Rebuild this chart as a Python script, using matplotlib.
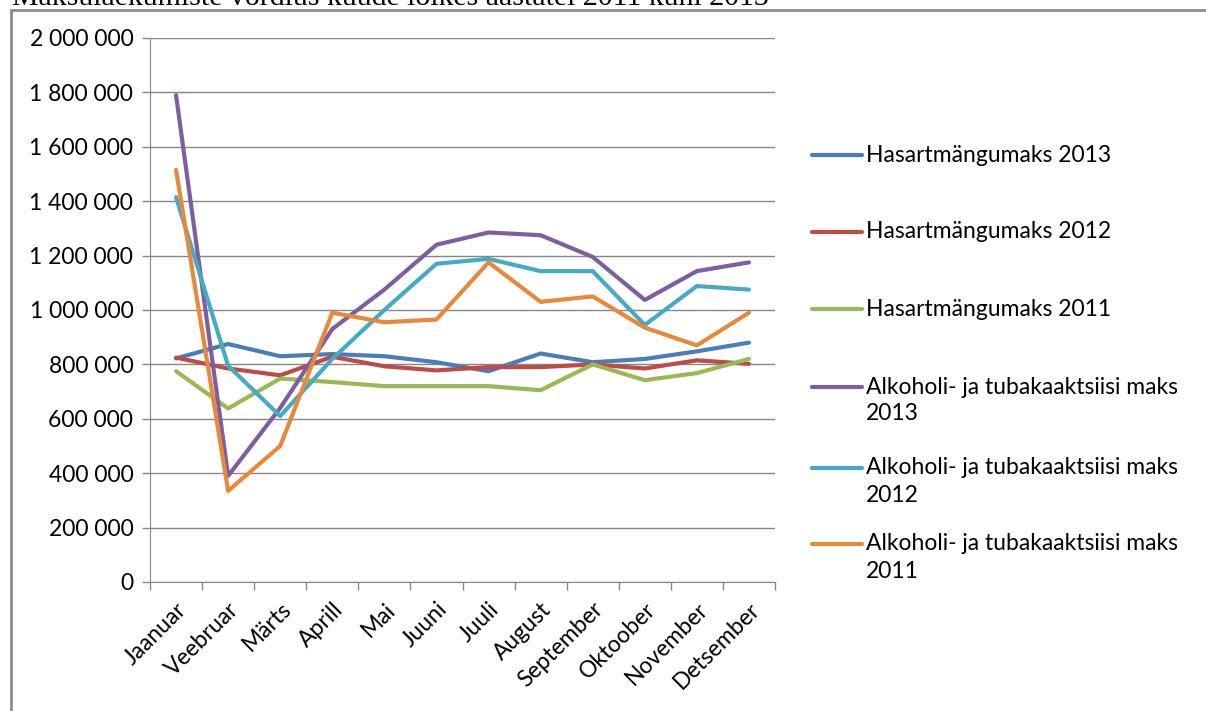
import matplotlib
matplotlib.use("Agg")
import matplotlib.pyplot as plt
from matplotlib.lines import Line2D
from matplotlib.patches import Rectangle
from matplotlib.ticker import FuncFormatter

plt.rcParams['font.family'] = ['Lato', 'DejaVu Sans']

months = ["Jaanuar", "Veebruar", "Märts", "Aprill", "Mai", "Juuni", "Juuli",
          "August", "September", "Oktoober", "November", "Detsember"]

hasart_2013 = [822000, 875000, 830000, 838000, 830000, 808000, 775000, 840000, 808000, 820000, 848000, 880000]
hasart_2012 = [825000, 785000, 760000, 828000, 793000, 778000, 790000, 790000, 800000, 785000, 815000, 802000]
hasart_2011 = [775000, 638000, 748000, 735000, 720000, 720000, 720000, 705000, 800000, 742000, 768000, 820000]
alko_2013 = [1790000, 390000, 640000, 930000, 1075000, 1240000, 1285000, 1275000, 1195000, 1037000, 1143000, 1175000]
alko_2012 = [1415000, 795000, 610000, 820000, 1000000, 1170000, 1188000, 1143000, 1143000, 945000, 1088000, 1075000]
alko_2011 = [1515000, 335000, 500000, 990000, 955000, 965000, 1175000, 1030000, 1050000, 935000, 870000, 990000]

series = [
    ("Hasartmängumaks 2013", hasart_2013, "#4A7EBB"),
    ("Hasartmängumaks 2012", hasart_2012, "#BE4B48"),
    ("Hasartmängumaks 2011", hasart_2011, "#98B954"),
    ("Alkoholi- ja tubakaaktsiisi maks\n2013", alko_2013, "#7D5FA0"),
    ("Alkoholi- ja tubakaaktsiisi maks\n2012", alko_2012, "#46AAC5"),
    ("Alkoholi- ja tubakaaktsiisi maks\n2011", alko_2011, "#E8883A"),
]

W, H = 1206, 711
fig = plt.figure(figsize=(W / 100, H / 100), dpi=100)

def fx(px):
    return px / W

def fy(py):
    return 1 - py / H

# outer frame, title sits above it and is cut by the page edge
fig.patches.append(Rectangle((fx(11), fy(725)), fx(1215) - fx(11), fy(10) - fy(725),
                             transform=fig.transFigure, fill=False,
                             edgecolor="#8c8c8c", linewidth=2))
fig.text(fx(12), fy(5), "Maksulaekumiste võrdlus kuude lõikes aastatel 2011 kuni 2013",
         family="Liberation Serif", fontsize=21.5, va="baseline", ha="left")

ax = fig.add_axes([fx(150), fy(582), fx(775) - fx(150), fy(38) - fy(582)])
x = list(range(len(months)))
for label, vals, col in series:
    ax.plot(x, vals, color=col, linewidth=3, solid_capstyle="round", solid_joinstyle="round")

ax.set_xlim(-0.5, len(months) - 0.5)
ax.set_ylim(0, 2000000)
ax.set_yticks(range(0, 2000001, 200000))
ax.yaxis.set_major_formatter(FuncFormatter(lambda v, p: f"{int(v):,}".replace(",", " ")))
ax.grid(axis="y", color="#868686", linewidth=1)
ax.set_axisbelow(True)

ax.set_xticks(x)
ax.set_xticklabels(months, rotation=45, ha="right", rotation_mode="anchor", fontsize=16.5)
ax.set_xticks([i - 0.5 for i in range(len(months) + 1)], minor=True)
ax.tick_params(axis="x", which="major", length=0, pad=12)
ax.tick_params(axis="x", which="minor", length=6, color="#868686", width=1)
ax.tick_params(axis="y", length=6, color="#868686", width=1, labelsize=16.5, pad=6)

for s in ["top", "right"]:
    ax.spines[s].set_visible(False)
for s in ["left", "bottom"]:
    ax.spines[s].set_color("#868686")

# legend, drawn like the Excel one (handle beside the first text line)
leg_y = [155, 232, 309, 387, 468, 544]
for (label, vals, col), py in zip(series, leg_y):
    fig.add_artist(Line2D([fx(812), fx(862)], [fy(py), fy(py)], color=col, linewidth=3,
                          solid_capstyle="round", transform=fig.transFigure))
    for i, part in enumerate(label.split("\n")):
        fig.text(fx(866), fy(py + i * 27), part, fontsize=16.5, va="center", ha="left")

fig.savefig("out.png", dpi=100)
